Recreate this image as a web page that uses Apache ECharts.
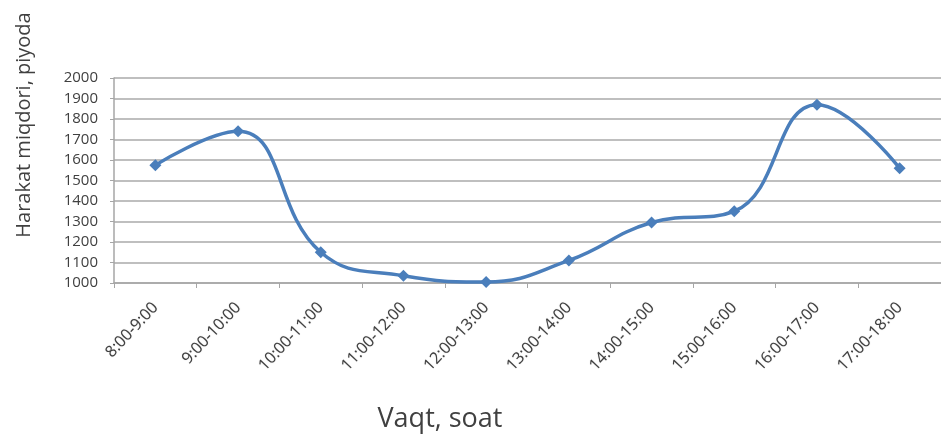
<!DOCTYPE html>
<html>
<head>
<meta charset="utf-8">
<script src="https://cdn.jsdelivr.net/npm/echarts@6/dist/echarts.min.js"></script>
<style>
  html, body { margin: 0; padding: 0; background: #fff; }
  #chart { width: 941px; height: 441px; }
</style>
</head>
<body>
<div id="chart"></div>
<script>
// Pedestrian traffic by hourly interval
const timeSlots = ['8:00-9:00', '9:00-10:00', '10:00-11:00', '11:00-12:00', '12:00-13:00',
                   '13:00-14:00', '14:00-15:00', '15:00-16:00', '16:00-17:00', '17:00-18:00'];
const pedestrians = [1575, 1740, 1150, 1035, 1005, 1110, 1295, 1350, 1870, 1560];
const yTicks = { min: 1000, max: 2000, step: 100 };
const yTitle = 'Harakat miqdori, piyoda';
const xTitle = 'Vaqt, soat';

const chart = echarts.init(document.getElementById('chart'));
chart.setOption({
  animation: false,
  grid: { left: 114, top: 78, width: 833, height: 205, containLabel: false },
  xAxis: {
    type: 'category',
    data: timeSlots,
    boundaryGap: true,
    axisLine: { lineStyle: { color: '#a6a6a6', width: 1.5 } },
    axisTick: { show: true, alignWithLabel: false, length: 5, lineStyle: { color: '#a6a6a6' } },
    axisLabel: {
      rotate: 47, interval: 0, margin: 22,
      fontFamily: 'Open Sans', fontSize: 16, color: '#404040',
      textShadowColor: 'rgba(64,64,64,0.35)', textShadowBlur: 1
    },
    splitLine: { show: false }
  },
  yAxis: {
    type: 'value',
    min: yTicks.min, max: yTicks.max, interval: yTicks.step,
    axisLine: { show: true, lineStyle: { color: '#a6a6a6', width: 1.5 } },
    axisTick: { show: true, length: 4, lineStyle: { color: '#a6a6a6' } },
    axisLabel: {
      fontFamily: 'Open Sans', fontSize: 15, color: '#404040', margin: 16,
      formatter: v => String(v)
    },
    splitLine: { lineStyle: { color: '#bfbfbf', width: 2 } }
  },
  series: [{
    type: 'line',
    data: pedestrians,
    smooth: 0.45,
    symbol: 'diamond',
    symbolSize: 12,
    lineStyle: { color: '#4a7ebb', width: 3.5 },
    itemStyle: { color: '#4a7ebb' }
  }],
  graphic: [
    {
      type: 'text', x: 24, y: 125, rotation: Math.PI / 2,
      style: { text: yTitle, font: '20px "Open Sans"', fill: '#404040', align: 'center', verticalAlign: 'middle' }
    },
    {
      type: 'text', x: 440, y: 419,
      style: { text: xTitle, font: '27px "Open Sans"', fill: '#404040', align: 'center', verticalAlign: 'middle' }
    }
  ]
});
</script>
</body>
</html>
